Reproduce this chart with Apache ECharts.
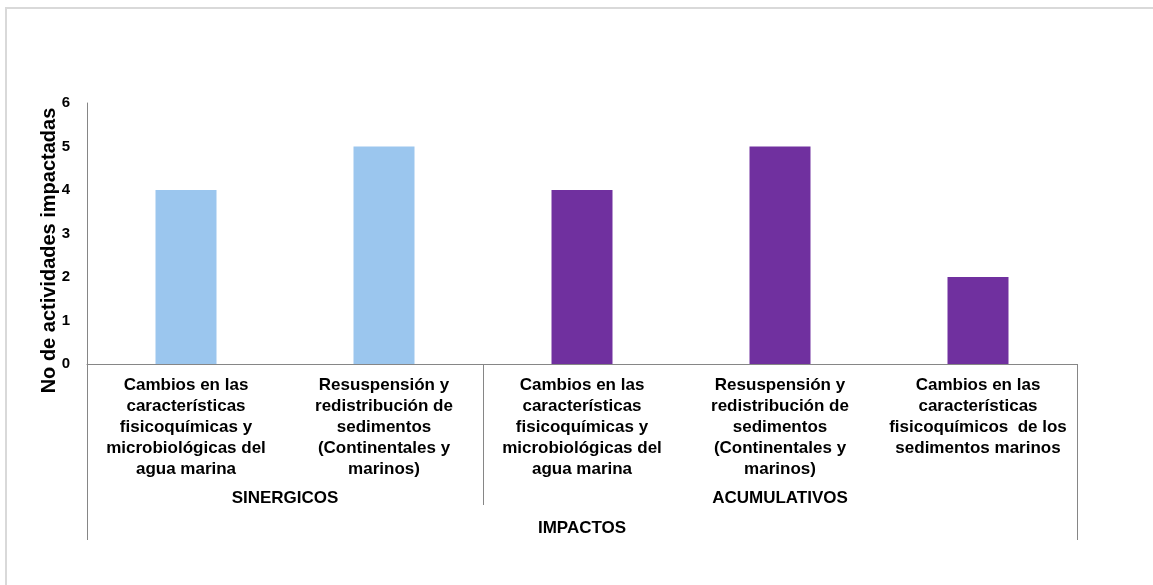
<!DOCTYPE html>
<html>
<head>
<meta charset="utf-8">
<script src="https://cdn.jsdelivr.net/npm/echarts@6/dist/echarts.min.js"></script>
<style>
  html, body { margin: 0; padding: 0; background: #fff; overflow: hidden; }
  #frame { position: absolute; left: 5px; top: 7px; width: 1200px; height: 700px;
           border-left: 2px solid #d9d9d9; border-top: 2px solid #d9d9d9; }
  #chart { position: absolute; left: 0; top: 0; width: 1153px; height: 585px; }
</style>
</head>
<body>
<div id="frame"></div>
<div id="chart"></div>
<script>
// ---- data ----
const categories = [
  'Cambios en las\ncaracterísticas\nfisicoquímicas y\nmicrobiológicas del\nagua marina',
  'Resuspensión y\nredistribución de\nsedimentos\n(Continentales y\nmarinos)',
  'Cambios en las\ncaracterísticas\nfisicoquímicas y\nmicrobiológicas del\nagua marina',
  'Resuspensión y\nredistribución de\nsedimentos\n(Continentales y\nmarinos)',
  'Cambios en las\ncaracterísticas\nfisicoquímicos  de los\nsedimentos marinos'
];
const values = [4, 5, 4, 5, 2];
const groupNames = ['SINERGICOS', 'ACUMULATIVOS'];
const groupSizes = [2, 3];
const groupColors = ['#9BC6EE', '#70309F'];
const outerLabel = 'IMPACTOS';
const yTicks = [0, 1, 2, 3, 4, 5, 6];
const yAxisTitle = 'No de actividades impactadas';

// ---- derived ----
const total = groupSizes.reduce((a, b) => a + b, 0);
const bounds = [0];
groupSizes.forEach(s => bounds.push(bounds[bounds.length - 1] + s));
const centers = groupSizes.map((s, i) => bounds[i] + s / 2);
const innerBounds = bounds.slice(1, -1);
const itemColors = [];
groupSizes.forEach((s, i) => { for (let k = 0; k < s; k++) itemColors.push(groupColors[i]); });

const axisColor = '#868686';
const font = 'Liberation Sans, Arial, sans-serif';

const chart = echarts.init(document.getElementById('chart'), null, { renderer: 'canvas' });
chart.setOption({
  animation: false,
  backgroundColor: 'transparent',
  grid: { left: 87, top: 103, width: 990, bottom: 221, containLabel: false },
  xAxis: [
    {
      type: 'category',
      data: categories,
      position: 'bottom',
      axisLine: { show: true, lineStyle: { color: axisColor, width: 1 } },
      axisTick: { show: false },
      axisLabel: {
        interval: 0, margin: 11, color: '#000',
        fontFamily: font, fontWeight: 'bold', fontSize: 17, lineHeight: 21, align: 'center'
      }
    },
    {
      type: 'value', min: 0, max: total, position: 'bottom',
      axisLine: { show: false },
      splitLine: { show: false },
      axisTick: { show: true, customValues: innerBounds, length: 141, lineStyle: { color: axisColor, width: 1 } },
      axisLabel: {
        show: true, customValues: centers, margin: 126, color: '#000',
        fontFamily: font, fontWeight: 'bold', fontSize: 17,
        formatter: v => { const i = centers.indexOf(v); return i >= 0 ? groupNames[i] : ''; }
      }
    },
    {
      type: 'value', min: 0, max: total, position: 'bottom',
      axisLine: { show: false },
      splitLine: { show: false },
      axisTick: { show: true, customValues: [0, total], length: 176, lineStyle: { color: axisColor, width: 1 } },
      axisLabel: {
        show: true, customValues: [total / 2], margin: 156, color: '#000',
        fontFamily: font, fontWeight: 'bold', fontSize: 17,
        formatter: () => outerLabel
      }
    }
  ],
  yAxis: {
    type: 'value', min: yTicks[0], max: yTicks[yTicks.length - 1], interval: 1,
    axisLine: { show: true, lineStyle: { color: axisColor, width: 1 } },
    axisTick: { show: false },
    splitLine: { show: false },
    axisLabel: { margin: 17, color: '#000', fontFamily: font, fontWeight: 'bold', fontSize: 15 },
    name: yAxisTitle,
    nameLocation: 'middle',
    nameGap: 28,
    nameRotate: 90,
    nameMoveOverlap: false,
    nameTextStyle: { color: '#000', fontFamily: font, fontWeight: 'bold', fontSize: 20, padding: [0, 34, 0, 0] }
  },
  series: [{
    type: 'bar',
    xAxisIndex: 0,
    barWidth: 61,
    data: values.map((v, i) => ({ value: v, itemStyle: { color: itemColors[i] } }))
  }]
});
</script>
</body>
</html>
